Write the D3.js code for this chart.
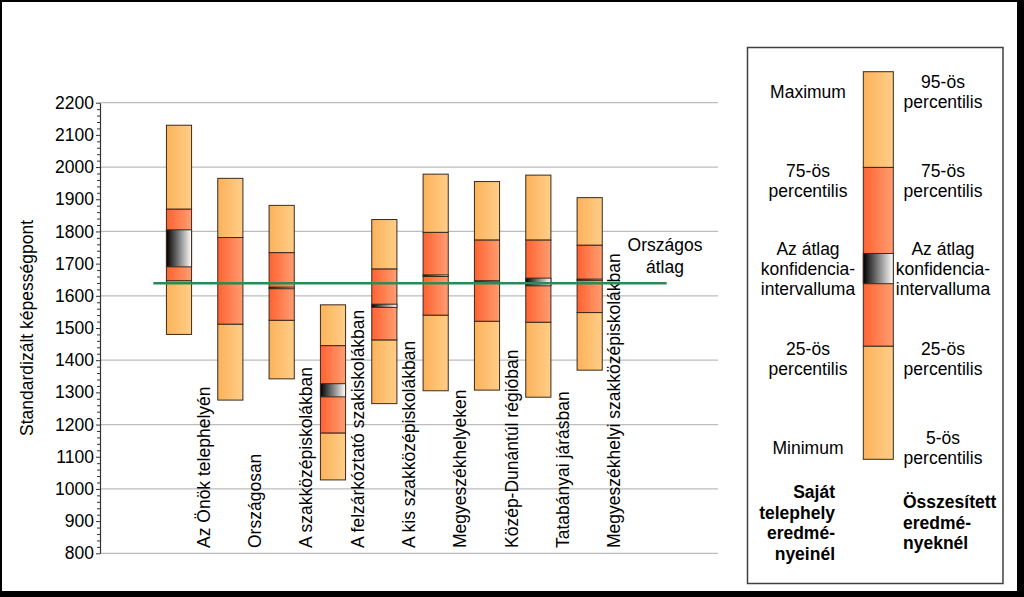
<!DOCTYPE html>
<html>
<head>
<meta charset="utf-8">
<script src="https://cdn.jsdelivr.net/npm/d3@7"></script>
<style>
  html, body { margin: 0; padding: 0; background: #fff; }
  svg text { font-family: "Liberation Sans", Arial, sans-serif; fill: #000; }
</style>
</head>
<body>
<svg id="chart" width="1024" height="597"></svg>
<script>
// ---- Data ----
const categories = [
  "Az Önök telephelyén",
  "Országosan",
  "A szakközépiskolákban",
  "A felzárkóztató szakiskolákban",
  "A kis szakközépiskolákban",
  "Megyeszékhelyeken",
  "Közép-Dunántúl régióban",
  "Tatabányai járásban",
  "Megyeszékhelyi szakközépiskolákban"
];
const minValues  = [1480, 1276, 1342, 1028, 1265, 1305, 1307, 1285, 1369];
const p25Values  = [1647, 1512, 1524, 1174, 1463, 1540, 1521, 1518, 1548];
const ciLow      = [1690, 1638, 1622, 1286, 1564, 1660, 1643, 1631, 1648];
const ciHigh     = [1805, 1641, 1627, 1327, 1574, 1665, 1647, 1655, 1652];
const p75Values  = [1869, 1781, 1734, 1445, 1683, 1797, 1773, 1773, 1757];
const maxValues  = [2130, 1965, 1881, 1572, 1837, 1978, 1955, 1975, 1905];
const nationalAverage = 1639;
const nationalLabel = ["Országos", "átlag"];
const yTickValues = [800, 900, 1000, 1100, 1200, 1300, 1400, 1500, 1600, 1700, 1800, 1900, 2000, 2100, 2200];
const yGridValues = [800, 1000, 1200, 1400, 1600, 1800, 2000, 2200];
const yTitle = "Standardizált képességpont";

// legend (abstract 0-100 scale)
const legendLevels = { min: 0, p25: 29.2, ciLow: 45.3, ciHigh: 53.1, p75: 75.3, max: 100 };
const legendLeftLines = [
  { lines: ["Maximum"], level: 100 },
  { lines: ["75-ös", "percentilis"], level: 75.3 },
  { lines: ["Az átlag", "konfidencia-", "intervalluma"], level: 49.2 },
  { lines: ["25-ös", "percentilis"], level: 29.2 },
  { lines: ["Minimum"], level: 0 }
];
const legendRightLines = [
  { lines: ["95-ös", "percentilis"], level: 100 },
  { lines: ["75-ös", "percentilis"], level: 75.3 },
  { lines: ["Az átlag", "konfidencia-", "intervalluma"], level: 49.2 },
  { lines: ["25-ös", "percentilis"], level: 29.2 },
  { lines: ["5-ös", "percentilis"], level: 0 }
];
const legendLeftFooter = ["Saját", "telephely", "eredmé-", "nyeinél"];
const legendRightFooter = ["Összesített", "eredmé-", "nyeknél"];

// ---- Layout ----
const svg = d3.select("#chart");
const FONT = 17.5;
const plotLeft = 100, plotRight = 718, plotTop = 102.7, plotBottom = 553.3;

const slots = d3.range(12);
const x = d3.scaleBand().domain(slots).range([102, 718]).padding(0);
const y = d3.scaleLinear().domain([800, 2200]).range([plotBottom, plotTop]);
const barW = x.bandwidth() * 0.49;

// gradients
const defs = svg.append("defs");
function grad(id, c1, c2) {
  const g = defs.append("linearGradient").attr("id", id)
    .attr("x1", "0").attr("x2", "1").attr("y1", "0").attr("y2", "0");
  g.append("stop").attr("offset", "0").attr("stop-color", c1);
  g.append("stop").attr("offset", "1").attr("stop-color", c2);
}
grad("gOrange", "#FCB25A", "#FFCE88");
grad("gRed", "#FF6230", "#FF9E72");
grad("gCI", "#000000", "#FFFFFF");

// frame
svg.append("rect").attr("x", 0).attr("y", 0).attr("width", 1024).attr("height", 2).attr("fill", "#000");
svg.append("rect").attr("x", 0).attr("y", 0).attr("width", 2).attr("height", 597).attr("fill", "#000");
svg.append("rect").attr("x", 1017).attr("y", 0).attr("width", 7).attr("height", 597).attr("fill", "#000");
svg.append("rect").attr("x", 0).attr("y", 591).attr("width", 1024).attr("height", 6).attr("fill", "#000");

// gridlines
svg.append("g").selectAll("line").data(yGridValues).join("line")
  .attr("x1", plotLeft).attr("x2", plotRight)
  .attr("y1", d => y(d)).attr("y2", d => y(d))
  .attr("stroke", "#BDBDBD").attr("stroke-width", 1.2);

// y axis (major)
const yAxis = d3.axisLeft(y).tickValues(yTickValues).tickSize(4).tickPadding(2).tickSizeOuter(0)
  .tickFormat(d3.format("d"));
const gy = svg.append("g").attr("transform", `translate(${plotLeft},0)`).call(yAxis);
gy.select(".domain").attr("stroke", "#333").attr("stroke-width", 1.2);
gy.selectAll(".tick line").attr("stroke", "#333");
gy.selectAll(".tick text").attr("font-size", FONT).attr("font-family", "Liberation Sans, Arial, sans-serif").attr("fill", "#000");
// minor ticks
const minor = d3.range(800, 2201, 20).filter(v => v % 100 !== 0);
const yMinor = d3.axisLeft(y).tickValues(minor).tickSize(3).tickFormat("").tickSizeOuter(0);
const gm = svg.append("g").attr("transform", `translate(${plotLeft},0)`).call(yMinor);
gm.select(".domain").remove();
gm.selectAll(".tick line").attr("stroke", "#333");

// y title
svg.append("text")
  .attr("transform", `translate(27,${(plotTop + plotBottom) / 2}) rotate(-90)`)
  .attr("text-anchor", "middle").attr("dy", "0.35em")
  .attr("font-size", FONT).text(yTitle);

// bars
const rows = categories.map((c, i) => ({
  c, i, slot: i + 1,
  min: minValues[i], p25: p25Values[i], lo: ciLow[i], hi: ciHigh[i], p75: p75Values[i], max: maxValues[i]
}));
const stroke = "#3B2A1C";
const gBars = svg.append("g");
rows.forEach(r => {
  const cx = x(r.slot) + x.bandwidth() / 2;
  const g = gBars.append("g");
  const seg = (a, b, fill) => g.append("rect")
    .attr("x", cx - barW / 2).attr("width", barW)
    .attr("y", y(b)).attr("height", Math.max(0.5, y(a) - y(b)))
    .attr("fill", fill).attr("stroke", stroke).attr("stroke-width", 1);
  seg(r.min, r.p25, "url(#gOrange)");
  seg(r.p75, r.max, "url(#gOrange)");
  seg(r.p25, r.p75, "url(#gRed)");
  seg(r.lo, r.hi, "url(#gCI)");
});

// category labels
svg.append("g").selectAll("text").data(rows).join("text")
  .attr("transform", d => `translate(${x(d.slot) + x.bandwidth() / 2 + 24.5},548) rotate(-90)`)
  .attr("dy", "0.36em").attr("text-anchor", "start")
  .attr("font-size", FONT).text(d => d.c);

// national average line
svg.append("line")
  .attr("x1", x(1)).attr("x2", x(10) + x.bandwidth())
  .attr("y1", y(nationalAverage)).attr("y2", y(nationalAverage))
  .attr("stroke", "#2B8A57").attr("stroke-width", 2.5);
svg.append("text").attr("text-anchor", "middle").attr("font-size", FONT)
  .selectAll("tspan").data(nationalLabel).join("tspan")
  .attr("x", 665).attr("y", (d, i) => 251 + i * 21.5).text(d => d);

// legend
svg.append("rect").attr("x", 747.5).attr("y", 47.5).attr("width", 255.5).attr("height", 536)
  .attr("fill", "#fff").attr("stroke", "#404040").attr("stroke-width", 1.5);
const ly = d3.scaleLinear().domain([0, 100]).range([459.3, 71.7]);
const lx = 863.3, lw = 30;
const lseg = (a, b, fill) => svg.append("rect")
  .attr("x", lx).attr("width", lw).attr("y", ly(b)).attr("height", ly(a) - ly(b))
  .attr("fill", fill).attr("stroke", stroke).attr("stroke-width", 1);
lseg(legendLevels.min, legendLevels.p25, "url(#gOrange)");
lseg(legendLevels.p75, legendLevels.max, "url(#gOrange)");
lseg(legendLevels.p25, legendLevels.p75, "url(#gRed)");
lseg(legendLevels.ciLow, legendLevels.ciHigh, "url(#gCI)");

const LH = 20.2;
function legendBlock(items, cx, offsets) {
  items.forEach((it, k) => {
    const n = it.lines.length;
    const t = svg.append("text").attr("text-anchor", "middle").attr("font-size", FONT);
    it.lines.forEach((s, j) => {
      t.append("tspan").attr("x", cx).attr("y", offsets[k] + j * LH).text(s);
    });
  });
}
// baselines (first line) for each block
legendBlock(legendLeftLines, 808, [97.5, 177, 255, 355, 454]);
legendBlock(legendRightLines, 943, [87.5, 177, 255, 355, 444]);

const lf = svg.append("text").attr("text-anchor", "end").attr("font-size", FONT).attr("font-weight", "bold");
legendLeftFooter.forEach((s, j) => lf.append("tspan").attr("x", 835).attr("y", 498 + j * 20.6).text(s));
const rf = svg.append("text").attr("text-anchor", "start").attr("font-size", FONT).attr("font-weight", "bold");
legendRightFooter.forEach((s, j) => rf.append("tspan").attr("x", 903).attr("y", 508 + j * 20.6).text(s));
</script>
</body>
</html>
